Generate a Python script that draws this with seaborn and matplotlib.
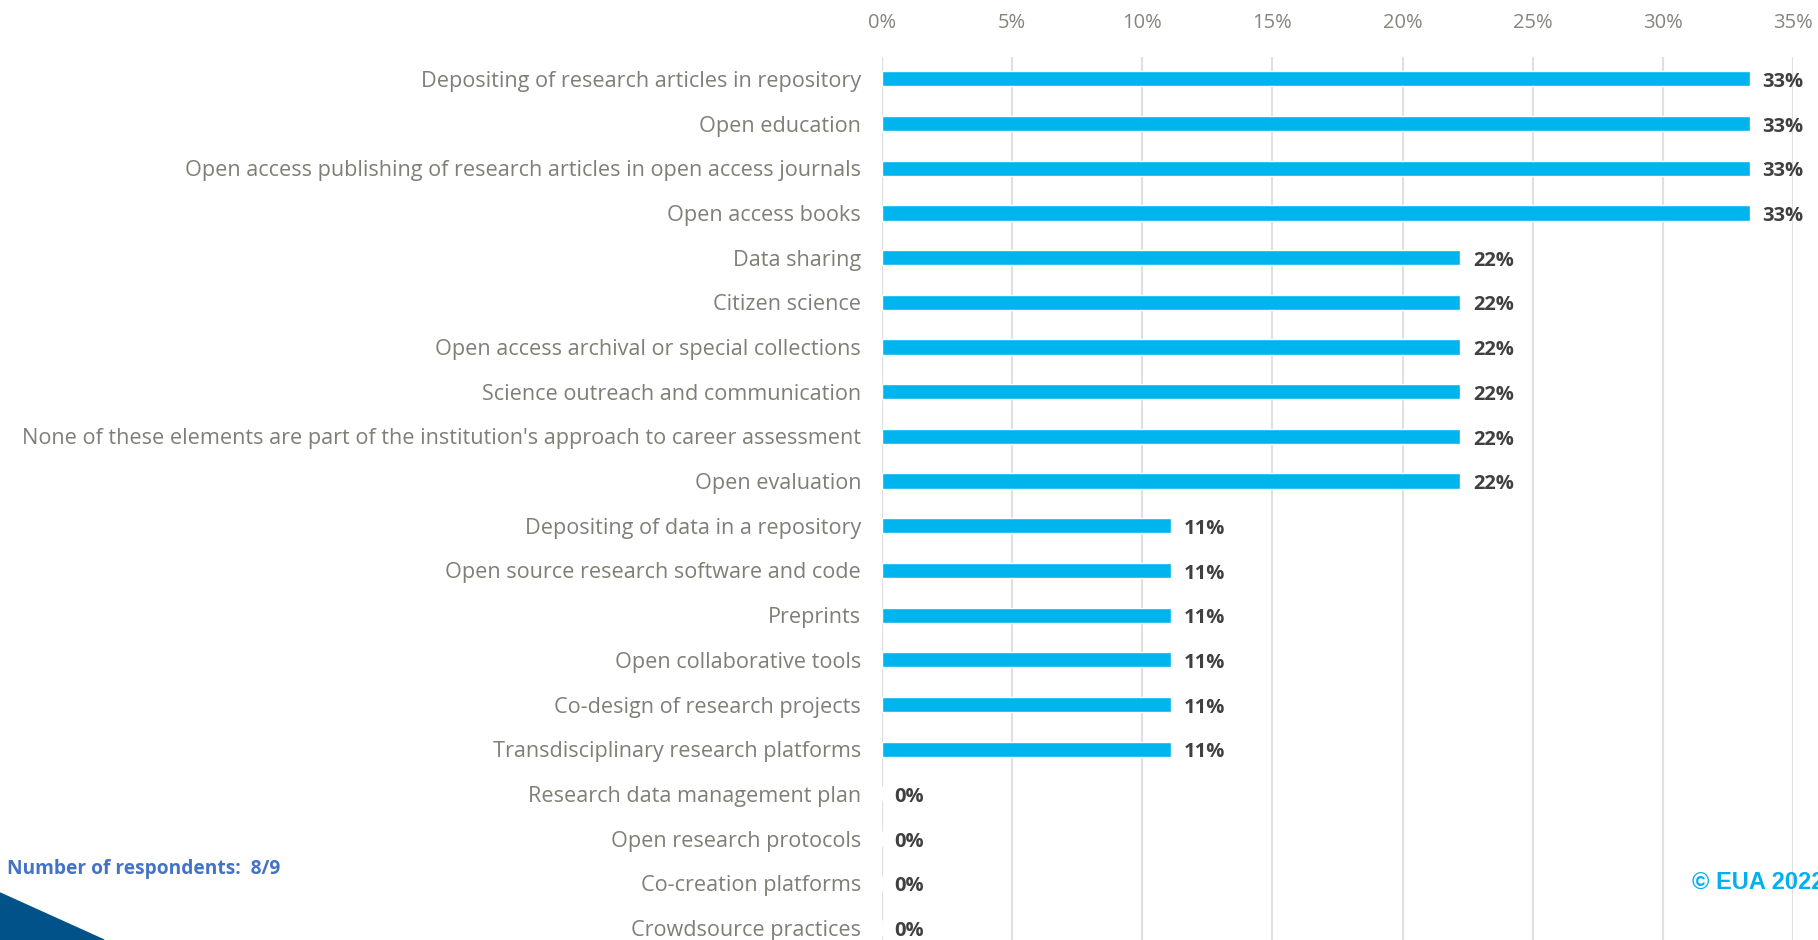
import numpy as np
import pandas as pd
import seaborn as sns
import matplotlib.pyplot as plt
from matplotlib.patches import Polygon

# datos del grafico
categories = [
    "Depositing of research articles in repository",
    "Open education",
    "Open access publishing of research articles in open access journals",
    "Open access books",
    "Data sharing",
    "Citizen science",
    "Open access archival or special collections",
    "Science outreach and communication",
    "None of these elements are part of the institution's approach to career assessment",
    "Open evaluation",
    "Depositing of data in a repository",
    "Open source research software and code",
    "Preprints",
    "Open collaborative tools",
    "Co-design of research projects",
    "Transdisciplinary research platforms",
    "Research data management plan",
    "Open research protocols",
    "Co-creation platforms",
    "Crowdsource practices",
]
shares = [3/9, 3/9, 3/9, 3/9, 2/9, 2/9, 2/9, 2/9, 2/9, 2/9,
          1/9, 1/9, 1/9, 1/9, 1/9, 1/9, 0, 0, 0, 0]
xticks = [0, 0.05, 0.10, 0.15, 0.20, 0.25, 0.30, 0.35]
xtick_labels = ["0%", "5%", "10%", "15%", "20%", "25%", "30%", "35%"]

df = pd.DataFrame({"category": categories, "share": shares})

sns.set_style("white")
plt.rcParams["font.family"] = ["Open Sans", "DejaVu Sans"]

W, H = 1818, 940
fig = plt.figure(figsize=(W / 100, H / 100), dpi=100)

# ejes en pixeles: 0% en x=882, 35% en x=1793, desde y=57 hasta abajo
ax = fig.add_axes([882 / W, 0, (1793 - 882) / W, (H - 57) / H])

sns.barplot(data=df, x="share", y="category", orient="h", color="#00B4EE",
            saturation=1, width=0.34, ax=ax)

ax.set_xlim(0, 0.35)
ax.set_ylim(19.27, -0.49)
ax.set_xticks(xticks)
ax.set_xticklabels(xtick_labels)
ax.xaxis.tick_top()
ax.tick_params(axis="x", length=0, pad=17, labelsize=14.5, colors="#85857c")
ax.tick_params(axis="y", length=0, pad=15, labelsize=15.6, colors="#7f7f76")
ax.set_xlabel("")
ax.set_ylabel("")
ax.grid(axis="x", color="#e0e0e0", linewidth=1.5)
ax.set_axisbelow(True)
for s in ax.spines.values():
    s.set_visible(False)
ax.axvline(0, color="#e0e0e0", linewidth=1.5, zorder=0)

for i, v in enumerate(shares):
    ax.text(v + 0.0048, i + 0.07, f"{round(v * 100):.0f}%", va="center", ha="left",
            fontsize=14.5, fontweight="bold", color="#404040", clip_on=False)

fig.text(7 / W, 1 - 869 / H, "Number of respondents:  8/9", color="#4472C4",
         fontsize=13.8, fontweight="bold", va="center", ha="left")
fig.text(1692 / W, 1 - 882 / H, "\u00a9 EUA 2022", color="#00B0F0",
         fontsize=17, fontweight="bold", va="center", ha="left",
         family=["Liberation Sans", "DejaVu Sans"])

tri = Polygon([[0, 1 - 893 / H], [104 / W, 0], [0, 0]], closed=True,
              transform=fig.transFigure, color="#005288")
fig.patches.append(tri)

fig.savefig("out.png", dpi=100)
